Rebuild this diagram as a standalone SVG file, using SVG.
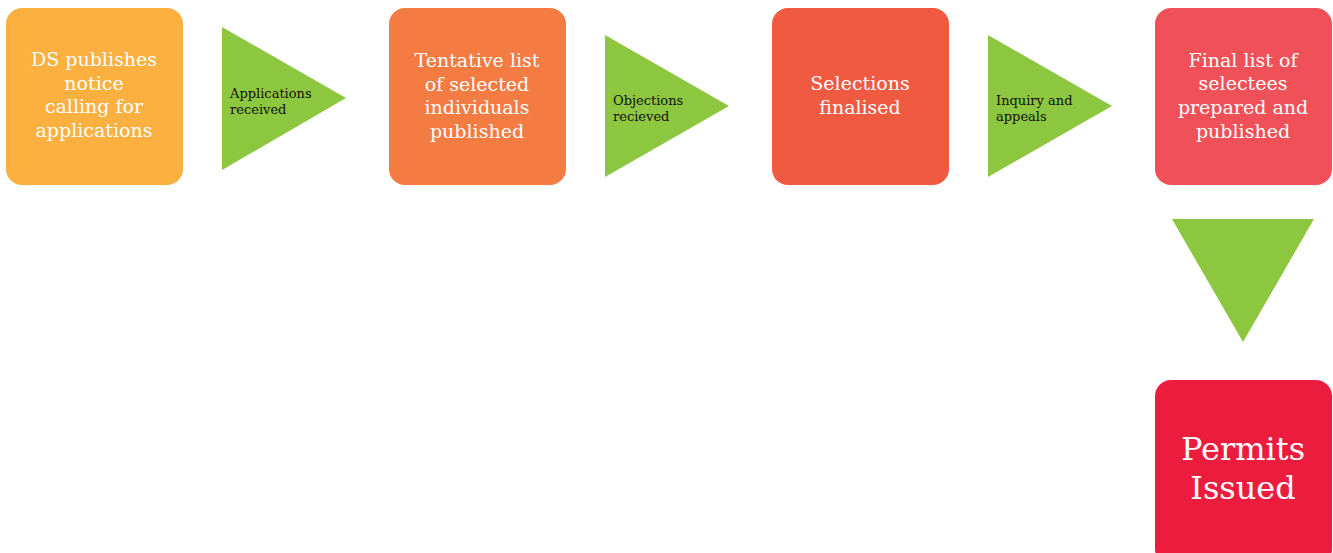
<svg xmlns="http://www.w3.org/2000/svg" width="1333" height="553" viewBox="0 0 1333 553">
<style>
.box text{font-family:"DejaVu Serif","Liberation Serif",serif;fill:#fff;text-anchor:middle;font-size:19px}
.arrow polygon{fill:#8DC63F}
.lbl{font-family:"DejaVu Serif","Liberation Serif",serif;fill:#111;font-size:13px}
</style>
<rect width="1333" height="553" fill="#fff"/>
<g id="n1" class="box"><rect x="6" y="8" width="177" height="177" rx="16" fill="#FBB040"/>
<text x="94" y="66">DS publishes</text><text x="94" y="90">notice</text><text x="94" y="113">calling for</text><text x="94" y="137">applications</text></g>
<g id="n2" class="box"><rect x="389" y="8" width="177" height="177" rx="16" fill="#F47B42"/>
<text x="477" y="67">Tentative list</text><text x="477" y="91">of selected</text><text x="477" y="114">individuals</text><text x="477" y="138">published</text></g>
<g id="n3" class="box"><rect x="772" y="8" width="177" height="177" rx="16" fill="#F05A40"/>
<text x="860" y="90">Selections</text><text x="860" y="114">finalised</text></g>
<g id="n4" class="box"><rect x="1155" y="8" width="177" height="177" rx="16" fill="#F05159"/>
<text x="1243" y="67">Final list of</text><text x="1243" y="90">selectees</text><text x="1243" y="114">prepared and</text><text x="1243" y="138">published</text></g>
<g id="n5" class="box"><rect x="1155" y="380" width="177" height="185" rx="16" fill="#EC1C3F"/>
<text x="1243" y="460" style="font-size:32px">Permits</text><text x="1243" y="499" style="font-size:32px">Issued</text></g>
<g id="connectors" class="arrow">
<g id="c1"><polygon points="222,27 222,170 346,98"/><text class="lbl" x="230" y="98">Applications</text><text class="lbl" x="230" y="114">received</text></g>
<g id="c2"><polygon points="605,35 605,177 729,106"/><text class="lbl" x="613" y="105">Objections</text><text class="lbl" x="613" y="121">recieved</text></g>
<g id="c3"><polygon points="988,35 988,177 1112,106"/><text class="lbl" x="996" y="105">Inquiry and</text><text class="lbl" x="996" y="121">appeals</text></g>
<g id="c4"><polygon points="1172,219 1314,219 1243,342"/></g>
</g>
</svg>
